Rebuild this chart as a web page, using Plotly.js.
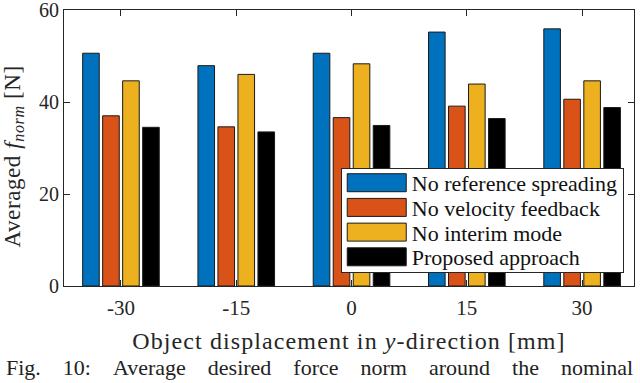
<!DOCTYPE html>
<html>
<head>
<meta charset="utf-8">
<script src="https://cdn.plot.ly/plotly-3.0.1.min.js"></script>
<style>
  html, body { margin: 0; padding: 0; background: #fff; }
  #chart { width: 640px; height: 383px; }
  /* Computer Modern is wider than the serif we have */
  #chart .xtitle { letter-spacing: 1.1px; }
  #chart .annotation[data-index="0"] text { letter-spacing: 0.6px; }
</style>
</head>
<body>
<div id="chart"></div>
<script>
// displacement categories [mm]
const displacements = ['-30', '-15', '0', '15', '30']

// averaged f_norm [N] per method
const noRefSpreading = [50.6, 47.9, 50.6, 55.2, 55.9]
const noVelFeedback  = [37.0, 34.6, 36.6, 39.1, 40.6]
const noInterimMode  = [44.6, 46.0, 48.3, 43.9, 44.6]
const proposed       = [34.5, 33.5, 34.9, 36.4, 38.8]

const seriesNames  = ['No reference spreading', 'No velocity feedback', 'No interim mode', 'Proposed approach']
const seriesColors = ['#0072BD', '#D95319', '#EDB120', '#000000']
const seriesValues = [noRefSpreading, noVelFeedback, noInterimMode, proposed]

const yTicks = [0, 20, 40, 60]

const FONT = '"Liberation Serif", "Times New Roman", serif'
const AXIS = '#262626'

let traces = seriesValues.map((vals, i) => ({
	type: 'bar',
	name: seriesNames[i],
	x: displacements,
	y: vals,
	marker: {color: seriesColors[i], line: {color: '#1a1a1a', width: 1}}
}))

const sp = '\u00a0\u00a0\u00a0\u00a0'
const caption = ['Fig.', '10:', 'Average', 'desired', 'force', 'norm', 'around', 'the', 'nominal'].join(sp)

let layout = {
	width: 640,
	height: 383,
	margin: {l: 64, r: 6, t: 10, b: 97},
	paper_bgcolor: '#fff',
	plot_bgcolor: '#fff',
	font: {family: FONT, size: 22, color: AXIS},
	barmode: 'group',
	bargap: 0.306,
	bargroupgap: 0.17,
	showlegend: true,
	legend: {
		x: 0.982, xanchor: 'right',
		y: 0.4275, yanchor: 'top',
		bgcolor: '#fff',
		bordercolor: AXIS,
		borderwidth: 1,
		itemwidth: 60,
		font: {family: FONT, size: 22, color: '#111'},
		tracegroupgap: 0
	},
	xaxis: {
		type: 'category',
		range: [-0.494, 4.45],
		showline: true, linecolor: AXIS, linewidth: 1,
		mirror: 'ticks',
		ticks: 'inside', ticklen: 6, tickcolor: AXIS,
		ticklabelstandoff: 3,
		showgrid: false, zeroline: false,
		tickfont: {family: FONT, size: 21, color: AXIS},
		title: {text: 'Object displacement in <i>y</i>-direction [mm]', font: {family: FONT, size: 24, color: AXIS}, standoff: 12}
	},
	yaxis: {
		range: [0, 60],
		tickvals: yTicks,
		ticklabeloverflow: 'allow',
		showline: true, linecolor: AXIS, linewidth: 1,
		mirror: 'ticks',
		ticks: 'inside', ticklen: 6, tickcolor: AXIS,
		showgrid: false, zeroline: false,
		tickfont: {family: FONT, size: 20, color: AXIS}
	},
	annotations: [{
		// y axis title
		xref: 'paper', yref: 'paper',
		x: -0.088, y: 0.47,
		xanchor: 'center', yanchor: 'middle',
		textangle: -90,
		showarrow: false,
		text: 'Averaged <i>f</i><sub><i>norm</i></sub> [N]',
		font: {family: FONT, size: 23, color: AXIS}
	}, {
		xref: 'paper', yref: 'paper',
		x: 0.449, y: -0.295,
		xanchor: 'center', yanchor: 'middle',
		showarrow: false,
		text: caption,
		font: {family: FONT, size: 22, color: '#222'}
	}]
}

Plotly.newPlot('chart', traces, layout, {displayModeBar: false, staticPlot: true}).then(() => {
	// MATLAB-style legend: wide swatches, tighter rows
	document.querySelectorAll('.legendpoints path').forEach(p => {
		p.setAttribute('d', 'M-29.5,-9H29.5V9H-29.5Z')
	})
	const ROW = 24.7, FIRST = 14.7
	document.querySelectorAll('.legend .traces').forEach((g, i) => {
		const m = /translate\(([^,]+),\s*([^)]+)\)/.exec(g.getAttribute('transform'))
		g.setAttribute('transform', 'translate(' + m[1] + ',' + (FIRST + i * ROW) + ')')
	})
	const bg = document.querySelector('.legend .bg')
	if (bg) bg.setAttribute('height', 104)
})
</script>
</body>
</html>
